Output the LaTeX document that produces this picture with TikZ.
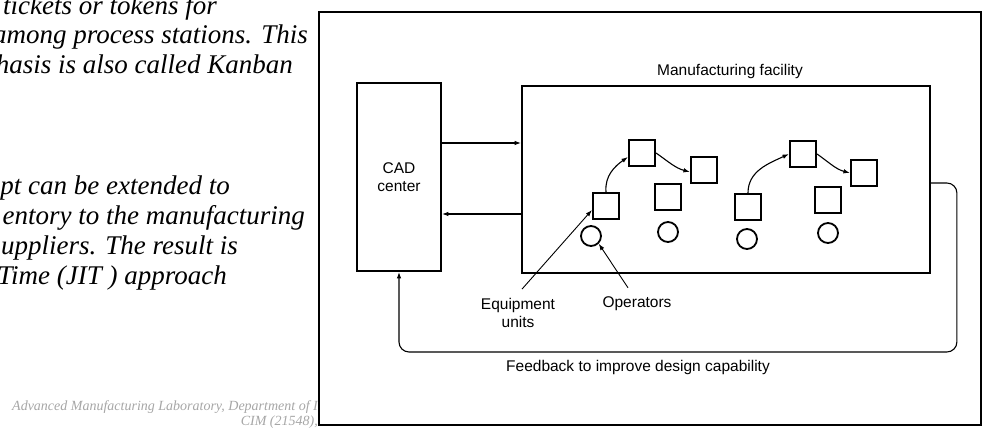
\documentclass[tikz,border=0pt]{standalone}
\usepackage{fontspec}
\setmainfont{Liberation Serif}
\setsansfont{Liberation Sans}
\usetikzlibrary{arrows.meta,positioning}
\tikzset{
    box/.style={draw,line width=1.8pt,inner sep=0pt},
    unit/.style={draw,line width=2.1pt,minimum size=26pt,inner sep=0pt},
    oper/.style={circle,draw,line width=1.8pt,minimum size=20pt,inner sep=0pt},
    arr/.style={-{Latex[length=6.5pt,width=4.5pt]},line width=1.1pt},
    lbl/.style={font=\sffamily\fontsize{15.5}{18}\selectfont,align=center,inner sep=0pt},
    slide/.style={font=\itshape\fontsize{27}{30}\selectfont,anchor=base east,inner sep=0pt},
    foot/.style={font=\itshape\fontsize{14}{16}\selectfont,text=gray!70,inner sep=0pt}
}
\begin{document}
\begin{tikzpicture}[x=1pt,y=1pt]
  \clip (0,0) rectangle (988,430);
  % slide text, cut off at the left
  \node[slide] (t1) at (217,415) {tickets or tokens for};
  \node[slide] (t2) at (308,386) {among process stations. This};
  \node[slide] (t3) at (293,356) {hasis is also called Kanban};
  \node[slide] (t4) at (230,235) {pt can be extended to};
  \node[slide] (t5) at (305,205) {entory to the manufacturing};
  \node[slide] (t6) at (238,175) {uppliers. The result is};
  \node[slide] (t7) at (227,145) {Time (JIT ) approach};
  \node[foot,anchor=base west] (f1) at (12,19) {Advanced Manufacturing Laboratory, Department of I};
  \node[foot,anchor=base east] (f2) at (318,4) {CIM (21548),};
  % figure frame
  \node[draw,line width=2pt,fill=white,minimum width=662pt,minimum height=413pt] (frame) at (650,211.5) {};
  % CAD center and facility
  \node[box,lbl,minimum width=84pt,minimum height=188pt] (CAD) at (399,253) {CAD\\center};
  \node[box,minimum width=408pt,minimum height=187pt] (MF) at (726,250.5) {};
  \node[lbl] (mftitle) at (730,358) {Manufacturing facility};
  \draw[arr] ([yshift=34pt]CAD.east) -- ([yshift=36.5pt]MF.west);
  \draw[arr] ([yshift=-34.5pt]MF.west) -- ([yshift=-37pt]CAD.east);
  % equipment units
  \node[unit] (E1) at (606,224) {};
  \node[unit] (E2) at (642,277) {};
  \node[unit] (E3) at (704,260) {};
  \node[unit] (E4) at (668,233) {};
  \node[unit] (E5) at (748,223) {};
  \node[unit] (E6) at (803,276) {};
  \node[unit] (E7) at (864,257) {};
  \node[unit] (E8) at (828,230) {};
  % operators
  \node[oper] (O1) at (591,194) {};
  \node[oper] (O2) at (668,198) {};
  \node[oper] (O3) at (747,191) {};
  \node[oper] (O4) at (828,197) {};
  % part flow
  \draw[arr] (E1.north) to[out=95,in=215] ([yshift=-4pt]E2.west);
  \draw[arr] (E2.east) to[out=-35,in=165] ([yshift=-2pt]E3.west);
  \draw[arr] (E5.north) to[out=90,in=205] (E6.west);
  \draw[arr] (E6.east) to[out=-35,in=165] (E7.west);
  % feedback loop
  \draw[arr,rounded corners=10pt] ([yshift=-3.5pt]MF.east) -- ++(26,0) -- ++(0,-169) -| (CAD.south);
  \node[lbl] (fb) at (638,63) {Feedback to improve design capability};
  % callouts
  \node[lbl] (eq) at (518,117) {Equipment\\units};
  \node[lbl] (op) at (637,126) {Operators};
  \draw[arr,line width=0.9pt] ([shift={(4pt,9pt)}]eq.north) -- ([yshift=-4pt]E1.west);
  \draw[arr,line width=0.9pt] ([shift={(-9pt,9pt)}]op.north) -- (O1.south east);
\end{tikzpicture}
\end{document}
